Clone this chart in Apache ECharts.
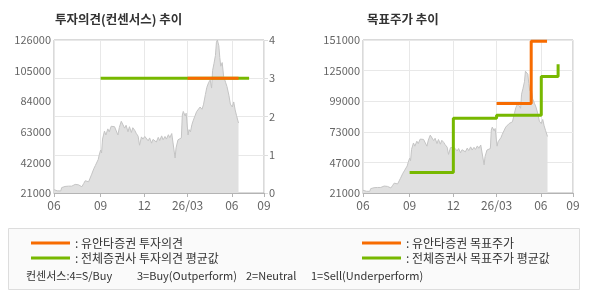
<!DOCTYPE html>
<html><head><meta charset="utf-8">
<script src="https://cdn.jsdelivr.net/npm/echarts@6/dist/echarts.min.js"></script>
<style>html,body{margin:0;padding:0;background:#fff}#c{width:590px;height:300px}</style>
</head><body><div id="c"></div>
<script>
// ---- data ----
const priceDates = [
'2025-05-27','2025-05-30','2025-06-03','2025-06-06','2025-06-10','2025-06-12','2025-06-16','2025-06-19','2025-06-23','2025-06-26',
'2025-06-30','2025-07-03','2025-07-07','2025-07-10','2025-07-14','2025-07-17','2025-07-21','2025-07-24','2025-07-28','2025-07-31',
'2025-08-04','2025-08-07','2025-08-11','2025-08-13','2025-08-18','2025-08-21','2025-08-25','2025-08-27','2025-08-29','2025-09-01',
'2025-09-03','2025-09-05','2025-09-09','2025-09-12','2025-09-16','2025-09-19','2025-09-23','2025-09-26','2025-09-30','2025-10-03',
'2025-10-07','2025-10-10','2025-10-14','2025-10-17','2025-10-21','2025-10-24','2025-10-28','2025-10-31','2025-11-04','2025-11-07',
'2025-11-11','2025-11-14','2025-11-18','2025-11-21','2025-11-25','2025-11-28','2025-12-02','2025-12-05','2025-12-09','2025-12-12',
'2025-12-16','2025-12-19','2025-12-23','2025-12-26','2025-12-30','2026-01-02','2026-01-06','2026-01-09','2026-01-13','2026-01-16',
'2026-01-20','2026-01-23','2026-01-27','2026-01-30','2026-02-03','2026-02-05','2026-02-09','2026-02-12','2026-02-16','2026-02-18',
'2026-02-20','2026-02-24','2026-02-26','2026-03-02','2026-03-04','2026-03-07','2026-03-10','2026-03-13','2026-03-17','2026-03-20',
'2026-03-24','2026-03-27','2026-03-31','2026-04-03','2026-04-07','2026-04-10','2026-04-14','2026-04-17','2026-04-20','2026-04-22',
'2026-04-25','2026-04-28','2026-04-30','2026-05-02','2026-05-05','2026-05-07','2026-05-09','2026-05-12','2026-05-15','2026-05-19',
'2026-05-22','2026-05-26','2026-05-29','2026-06-02','2026-06-05','2026-06-08','2026-06-11','2026-06-15'
];
const priceValues = [
23300,22700,22500,22900,22400,24700,25000,25500,24900,25700,
26300,25700,26500,26900,26200,26600,26800,25300,27600,29400,
30100,28700,28200,33500,37800,39800,38500,44000,47000,50500,
48500,58000,63500,60800,65000,63000,66800,68000,66500,67800,
60800,66000,70200,69000,65500,67500,63000,66500,62500,65800,
64000,62000,60000,53800,59500,58000,59800,58500,56800,58800,
55200,57800,58500,56000,59200,57000,60200,57500,59800,58000,
61000,59000,61800,60500,45000,52000,57500,56800,58800,74500,
77000,73800,75800,60800,64500,63000,68000,71000,74500,77000,
76000,80000,78500,81500,88500,93500,97000,98500,93000,105000,
110000,115500,124500,126000,122000,114000,108000,110500,101000,97000,
94000,88000,82000,80000,83500,78000,74000,69000
];
const xTickDates = ['2025-05-27','2025-09-01','2025-12-01','2026-03-01','2026-06-01','2026-08-07'];
const xTickLabels = ['06','09','12','26/03','06','09'];
const opinionTicks = [0,1,2,3,4];
const leftPriceTicks = [21000,42000,63000,84000,105000,126000];
const rightPriceTicks = [21000,47000,73000,99000,125000,151000];

const yuantaOpinionDates = ['2026-03-01','2026-06-15'];
const yuantaOpinionValues = [3,3];
const avgOpinionDates = ['2025-09-01','2026-07-07'];
const avgOpinionValues = [3,3];
const yuantaTargetDates = ['2026-03-01','2026-05-12','2026-06-14'];
const yuantaTargetValues = [97000,150000,150000];
const avgTargetDates = ['2025-09-01','2025-12-01','2026-03-01','2026-06-02','2026-07-07'];
const avgTargetValues = [38500,84500,87000,120000,130500];

const legendNote = [
  {text:'컨센서스:4=S/Buy', x:26},
  {text:'3=Buy(Outperform)', x:137},
  {text:'2=Neutral', x:246},
  {text:'1=Sell(Underperform)', x:311}
];

// ---- build ----
const P = s => { const [y, m, d] = s.split('-').map(Number); return Date.UTC(y, m - 1, d); };
const tickVals = xTickDates.map(P);
const zip = (d, v) => d.map((s, i) => [P(s), v[i]]);
const ORANGE = '#f76b00', GREEN = '#77b800';
const FONT = "'Noto Sans CJK KR', 'Noto Sans', sans-serif";
const labelFor = v => { let best = 0, bd = Infinity; tickVals.forEach((t, i) => { const d = Math.abs(t - v); if (d < bd) { bd = d; best = i; } }); return xTickLabels[best]; };
const plain = v => String(v);

function xAxisFor(g) {
  return {
    type: 'value', gridIndex: g, min: tickVals[0], max: tickVals[tickVals.length - 1],
    axisLine: {show: true, lineStyle: {color: '#b4b4b4'}},
    axisTick: {show: true, length: 4, lineStyle: {color: '#b4b4b4'}, customValues: tickVals},
    axisLabel: {customValues: tickVals, formatter: labelFor, color: '#666', fontSize: 12, margin: 6, fontFamily: FONT, hideOverlap: false},
    splitLine: {show: true, lineStyle: {color: '#e8e8e8'}}
  };
}

const chart = echarts.init(document.getElementById('c'), null, {renderer: 'canvas'});
chart.setOption({
  animation: false,
  textStyle: {fontFamily: FONT},
  title: [
    {text: '투자의견(컨센서스) 추이', left: 55, top: 13, padding: 0, textStyle: {fontSize: 12.5, fontWeight: 'bold', color: '#333', fontFamily: FONT}},
    {text: '목표주가 추이', left: 367, top: 13, padding: 0, textStyle: {fontSize: 12.5, fontWeight: 'bold', color: '#333', fontFamily: FONT}}
  ],
  grid: [
    {left: 54, top: 40, width: 210, height: 153, show: true, borderColor: '#b4b4b4', borderWidth: 1},
    {left: 363, top: 40, width: 210, height: 153, show: true, borderColor: '#b4b4b4', borderWidth: 1}
  ],
  xAxis: [xAxisFor(0), xAxisFor(1)],
  yAxis: [
    {type: 'value', gridIndex: 0, min: leftPriceTicks[0], max: leftPriceTicks[leftPriceTicks.length - 1], interval: 21000,
     axisLine: {show: false}, axisTick: {show: false}, splitLine: {show: false},
     axisLabel: {color: '#666', fontSize: 11, margin: 3, fontFamily: FONT, formatter: plain}},
    {type: 'value', gridIndex: 0, position: 'right', min: opinionTicks[0], max: opinionTicks[opinionTicks.length - 1], interval: 1,
     axisLine: {show: false}, axisTick: {show: true, length: 4, lineStyle: {color: '#ddd'}},
     splitLine: {show: true, lineStyle: {color: '#e8e8e8'}},
     axisLabel: {color: '#666', fontSize: 11, margin: 5, fontFamily: FONT, formatter: plain}},
    {type: 'value', gridIndex: 1, min: rightPriceTicks[0], max: rightPriceTicks[rightPriceTicks.length - 1],
     axisLine: {show: false}, axisTick: {show: false, customValues: rightPriceTicks},
     splitLine: {show: true, lineStyle: {color: '#e8e8e8'}},
     axisLabel: {customValues: rightPriceTicks, color: '#666', fontSize: 11, margin: 3, fontFamily: FONT, formatter: plain}}
  ],
  legend: [
    {orient: 'vertical', left: 26, top: 232, icon: 'rect', itemWidth: 39, itemHeight: 3, itemGap: 3,
     data: ['유안타증권 투자의견', '전체증권사 투자의견 평균값'], formatter: ': {name}',
     textStyle: {fontSize: 12, color: '#333', fontFamily: FONT}, selectedMode: false},
    {orient: 'vertical', left: 357, top: 232, icon: 'rect', itemWidth: 39, itemHeight: 3, itemGap: 3,
     data: ['유안타증권 목표주가', '전체증권사 목표주가 평균값'], formatter: ': {name}',
     textStyle: {fontSize: 12, color: '#333', fontFamily: FONT}, selectedMode: false}
  ],
  graphic: [
    {type: 'rect', z: -10, shape: {x: 8.5, y: 228.5, width: 571, height: 61}, style: {fill: '#fafafa', stroke: '#dddddd', lineWidth: 1}}
  ].concat(legendNote.map(n => ({type: 'text', x: n.x, y: 276, style: {text: n.text, fill: '#333', font: "11px " + FONT, textVerticalAlign: 'middle'}}))),
  series: [
    {name: '주가', type: 'line', xAxisIndex: 0, yAxisIndex: 0, data: zip(priceDates, priceValues), symbol: 'none',
     lineStyle: {color: '#c4c4c4', width: 1}, areaStyle: {color: '#e0e0e0', opacity: 1}, itemStyle: {color: '#c4c4c4'}},
    {name: '전체증권사 투자의견 평균값', type: 'line', xAxisIndex: 0, yAxisIndex: 1, data: zip(avgOpinionDates, avgOpinionValues), symbol: 'none',
     lineStyle: {color: GREEN, width: 3}, itemStyle: {color: GREEN}},
    {name: '유안타증권 투자의견', type: 'line', xAxisIndex: 0, yAxisIndex: 1, data: zip(yuantaOpinionDates, yuantaOpinionValues), symbol: 'none',
     lineStyle: {color: ORANGE, width: 3}, itemStyle: {color: ORANGE}},
    {name: '주가2', type: 'line', xAxisIndex: 1, yAxisIndex: 2, data: zip(priceDates, priceValues), symbol: 'none',
     lineStyle: {color: '#c4c4c4', width: 1}, areaStyle: {color: '#e0e0e0', opacity: 1}, itemStyle: {color: '#c4c4c4'}},
    {name: '전체증권사 목표주가 평균값', type: 'line', xAxisIndex: 1, yAxisIndex: 2, data: zip(avgTargetDates, avgTargetValues), symbol: 'none', step: 'end',
     lineStyle: {color: GREEN, width: 3}, itemStyle: {color: GREEN}},
    {name: '유안타증권 목표주가', type: 'line', xAxisIndex: 1, yAxisIndex: 2, data: zip(yuantaTargetDates, yuantaTargetValues), symbol: 'none', step: 'end',
     lineStyle: {color: ORANGE, width: 3}, itemStyle: {color: ORANGE}}
  ]
});
</script></body></html>
